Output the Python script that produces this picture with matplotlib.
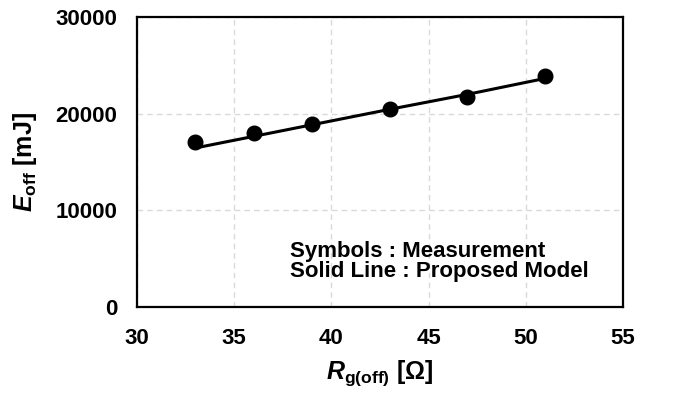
import matplotlib
matplotlib.use('Agg')
import matplotlib.pyplot as plt

# data
rg = [33, 36, 39, 43, 47, 51]
e_meas = [17100, 18030, 18900, 20480, 21720, 23930]
e_model = [16450, 17650, 18850, 20450, 22000, 23650]

xticks = [30, 35, 40, 45, 50, 55]
yticks = [0, 10000, 20000, 30000]

plt.rcParams['font.family'] = ['Liberation Sans', 'DejaVu Sans']
plt.rcParams['font.weight'] = 'bold'
plt.rcParams['mathtext.fontset'] = 'custom'
plt.rcParams['mathtext.it'] = 'Liberation Sans:bold:italic'
plt.rcParams['mathtext.rm'] = 'Liberation Sans:bold'
plt.rcParams['mathtext.bf'] = 'Liberation Sans:bold'

fig = plt.figure(figsize=(6.85, 3.93), dpi=100)
ax = fig.add_axes([137/685, 1 - 307/393, 486/685, 290/393])

ax.plot(rg, e_model, color='black', lw=2.2, zorder=3)
ax.plot(rg, e_meas, 'o', color='black', ms=10.5, zorder=4)

ax.set_xlim(30, 55)
ax.set_ylim(0, 30000)
ax.set_xticks(xticks)
ax.set_yticks(yticks)
ax.tick_params(length=0, labelsize=16)
ax.tick_params(axis='y', pad=14)
ax.tick_params(axis='x', pad=15)
for lab in ax.get_xticklabels() + ax.get_yticklabels():
	lab.set_fontweight('bold')

ax.grid(True, color='#d9d9d9', ls=(0, (4, 3)), lw=1)
ax.set_axisbelow(True)
for sp in ax.spines.values():
	sp.set_linewidth(1.6)

ax.set_xlabel(r'$R_{\mathrm{g(off)}}$ [Ω]', fontsize=18, fontweight='bold', labelpad=7)
ax.set_ylabel(r'$E_{\mathrm{off}}$ [mJ]', fontsize=18, fontweight='bold', labelpad=12)

ax.text(0.315, 0.172, 'Symbols : Measurement', transform=ax.transAxes,
	fontsize=16, fontweight='bold', va='baseline', ha='left')
ax.text(0.315, 0.105, 'Solid Line : Proposed Model', transform=ax.transAxes,
	fontsize=16, fontweight='bold', va='baseline', ha='left')

fig.savefig('out.png', dpi=100)
